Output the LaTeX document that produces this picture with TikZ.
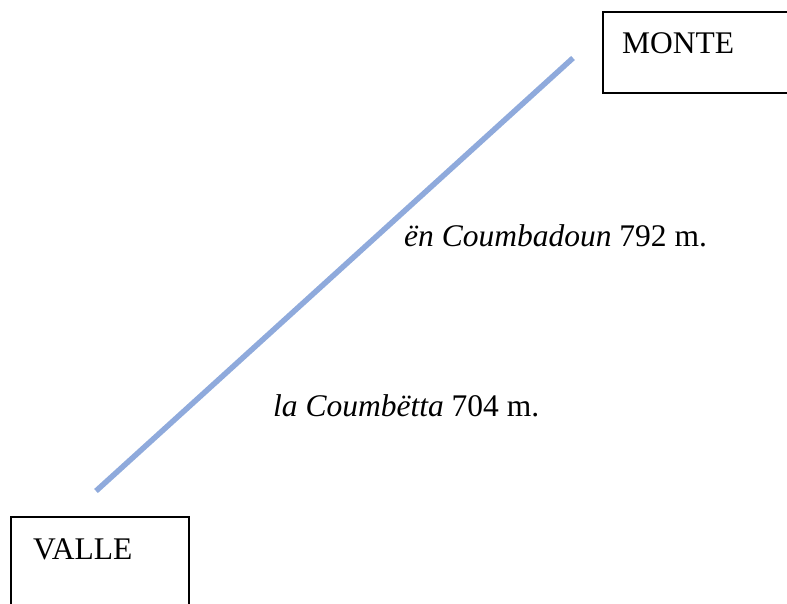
\documentclass[tikz,border=0pt]{standalone}
\usepackage{fontspec}
\setmainfont{Liberation Serif}
\definecolor{slope}{HTML}{8FAADC}
\begin{document}
\begin{tikzpicture}[x=1pt,y=-1pt,
  frame/.style={draw=black,line width=1.5pt,fill=none},
  label/.style={anchor=base west,inner sep=0pt,font=\fontsize{31.5}{36}\selectfont},
  ridge/.style={draw=slope,line width=5.5pt}]
\useasboundingbox (0,0) rectangle (787,603);
\clip (0,0) rectangle (787,603);
\path[frame] (603,12) rectangle (800,93);
\node[label] (monte) at (622,53) {MONTE};
\path[frame] (11,517) rectangle (189,615);
\node[label] (valle) at (33,559) {VALLE};
\coordinate (low) at (96,491);
\coordinate (high) at (573,58);
\draw[ridge] (low) -- (high);
\node[label] (up) at (404,246) {\textit{ën Coumbadoun} 792 m.};
\node[label] (down) at (273,416) {\textit{la Coumbëtta} 704 m.};
\end{tikzpicture}
\end{document}
